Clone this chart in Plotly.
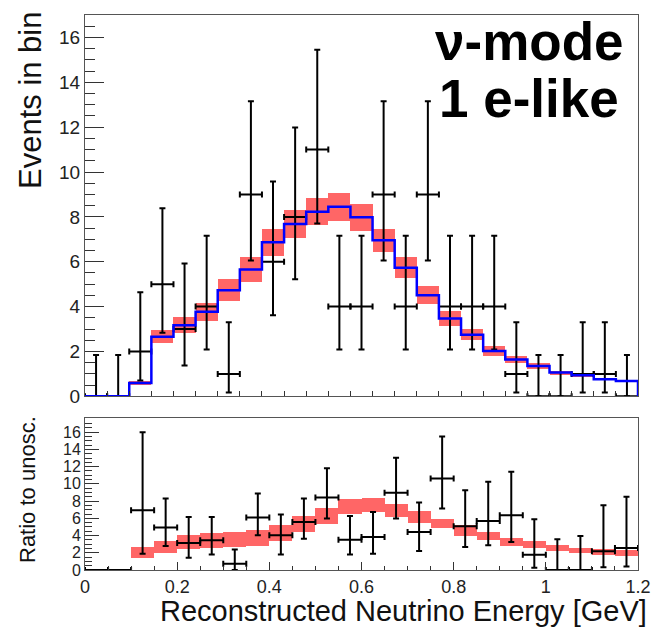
import plotly.graph_objects as go

# ---------------- data ----------------
# Top panel: 25 bins of reconstructed energy (GeV)
top_centers = [0.025, 0.075, 0.125, 0.175, 0.225, 0.275, 0.325, 0.375, 0.425, 0.475,
               0.525, 0.575, 0.625, 0.675, 0.725, 0.775, 0.825, 0.875, 0.925, 0.975,
               1.025, 1.075, 1.125, 1.175, 1.225]
top_edges = [0.0, 0.05, 0.1, 0.15, 0.2, 0.25, 0.3, 0.35, 0.4, 0.45, 0.5, 0.55, 0.6,
             0.65, 0.7, 0.75, 0.8, 0.85, 0.9, 0.95, 1.0, 1.05, 1.1, 1.15, 1.2, 1.25]
top_data = [0, 0, 2, 5, 3, 4, 1, 9, 6, 8, 11, 4, 4, 9, 4, 9, 4, 4, 4, 1, 0, 0, 1, 1, 0]
top_data_lo = [0, 0, 0.71, 2.84, 1.37, 2.09, 0.17, 6.06, 3.62, 5.22, 7.7, 2.09, 2.09,
               6.06, 2.09, 6.06, 2.09, 2.09, 2.09, 0.17, 0, 0, 0.17, 0.17, 0]
top_data_hi = [1.84, 1.84, 4.64, 8.38, 5.92, 7.16, 3.30, 13.15, 9.58, 11.98, 15.45, 7.16,
               7.16, 13.15, 7.16, 13.15, 7.16, 7.16, 7.16, 3.30, 1.84, 1.84, 3.30, 3.30, 1.84]
top_mc = [0, 0, 0.6, 2.66, 3.17, 3.77, 4.73, 5.65, 6.87, 7.68, 8.23, 8.45, 7.98, 6.96,
          5.73, 4.51, 3.47, 2.75, 2.02, 1.64, 1.35, 1.06, 0.94, 0.76, 0.68]
top_mc_err = [0, 0, 0.1, 0.3, 0.35, 0.4, 0.5, 0.55, 0.6, 0.63, 0.6, 0.63, 0.6, 0.52,
              0.46, 0.39, 0.33, 0.26, 0.21, 0.17, 0.13, 0.09, 0.07, 0.05, 0.03]

# Bottom panel: 24 bins, ratio to unoscillated
bot_centers = [0.025, 0.075, 0.125, 0.175, 0.225, 0.275, 0.325, 0.375, 0.425, 0.475,
               0.525, 0.575, 0.625, 0.675, 0.725, 0.775, 0.825, 0.875, 0.925, 0.975,
               1.025, 1.075, 1.125, 1.175]
bot_data = [0, 0, 6.94, 4.92, 3.13, 3.44, 0.72, 6.08, 4.02, 5.58, 8.42, 3.52, 3.83,
            8.96, 4.41, 10.63, 5.07, 5.69, 6.36, 1.77, 0, 0, 2.19, 2.54]
bot_data_lo = [0, 0, 1.9, 2.78, 1.42, 1.8, 0, 4.02, 1.8, 3.63, 5.97, 1.8, 1.89,
               5.97, 2.2, 7.14, 2.66, 2.86, 3.24, 0.25, 0, 0, 0.33, 0.41]
bot_data_hi = [0, 0, 16.0, 8.3, 6.16, 6.16, 2.39, 8.88, 6.43, 8.3, 11.8, 6.28, 6.74,
               13.04, 7.83, 15.5, 9.27, 10.24, 11.4, 5.89, 3.56, 3.94, 7.52, 8.49]
bot_mc = [0, 0, 1.98, 2.6, 3.19, 3.36, 3.48, 3.67, 4.22, 5.3, 6.25, 7.33, 7.52, 6.82,
          6.08, 5.34, 4.56, 3.9, 3.2, 2.9, 2.55, 2.23, 2.08, 1.96]
bot_mc_err = [0, 0, 0.68, 0.72, 0.84, 0.9, 0.9, 0.9, 0.95, 0.95, 0.95, 0.85, 0.8, 0.75,
              0.68, 0.55, 0.6, 0.45, 0.45, 0.4, 0.33, 0.33, 0.33, 0.33]

x_tick_vals = [0, 0.2, 0.4, 0.6, 0.8, 1.0, 1.2]
x_tick_text = ["0", "0.2", "0.4", "0.6", "0.8", "1", "1.2"]
y_top_ticks = [0, 2, 4, 6, 8, 10, 12, 14, 16]
y_bot_ticks = [0, 2, 4, 6, 8, 10, 12, 14, 16]

# ---------------- styling ----------------
RED = "rgba(255,0,0,0.6)"
BLUE = "#0000ff"
FRAME = "#555555"
FONT = "Liberation Sans, Arial, sans-serif"
HALF_BIN = 0.025

fig = go.Figure()

# ---- top panel ----
fig.add_trace(go.Scatter(
    x=top_centers, y=top_data, mode="markers",
    marker=dict(color="black", size=2),
    error_x=dict(type="constant", value=HALF_BIN, color="black", thickness=2, width=3),
    error_y=dict(type="data", symmetric=False,
                 array=[h - v for h, v in zip(top_data_hi, top_data)],
                 arrayminus=[v - l for v, l in zip(top_data, top_data_lo)],
                 color="black", thickness=2, width=3),
    xaxis="x", yaxis="y", showlegend=False, hoverinfo="skip"))

fig.add_trace(go.Bar(
    x=top_centers, y=[2 * e for e in top_mc_err],
    base=[m - e for m, e in zip(top_mc, top_mc_err)],
    width=0.05, marker=dict(color=RED, line=dict(width=0)),
    xaxis="x", yaxis="y", showlegend=False, hoverinfo="skip"))

fig.add_trace(go.Scatter(
    x=top_edges + [top_edges[-1]], y=top_mc + [top_mc[-1], 0],
    mode="lines", line=dict(color=BLUE, width=2.5, shape="hv"),
    xaxis="x", yaxis="y", showlegend=False, hoverinfo="skip"))

# ---- bottom panel ----
fig.add_trace(go.Scatter(
    x=bot_centers, y=bot_data, mode="markers",
    marker=dict(color="black", size=2),
    error_x=dict(type="constant", value=HALF_BIN, color="black", thickness=2, width=3),
    error_y=dict(type="data", symmetric=False,
                 array=[h - v if h > 0 else 0 for h, v in zip(bot_data_hi, bot_data)],
                 arrayminus=[v - l for v, l in zip(bot_data, bot_data_lo)],
                 color="black", thickness=2, width=3),
    xaxis="x2", yaxis="y2", showlegend=False, hoverinfo="skip"))

fig.add_trace(go.Bar(
    x=bot_centers, y=[2 * e for e in bot_mc_err],
    base=[m - e for m, e in zip(bot_mc, bot_mc_err)],
    width=0.05, marker=dict(color=RED, line=dict(width=0)),
    xaxis="x2", yaxis="y2", showlegend=False, hoverinfo="skip"))

axis_common = dict(showgrid=False, zeroline=False, showline=True, linecolor=FRAME,
                   linewidth=1, mirror=True, ticks="inside", tickcolor="#333333",
                   automargin=False,
                   tickfont=dict(family=FONT, color="#222222"))

fig.update_layout(
    template="none",
    width=651, height=630,
    margin=dict(l=85, r=13, t=15, b=60, autoexpand=False),
    paper_bgcolor="white", plot_bgcolor="white",
    barmode="overlay", bargap=0,
    font=dict(family=FONT, color="black"),
    xaxis=dict(axis_common, range=[0, 1.25], domain=[0, 1], anchor="y",
               tickmode="array", tickvals=top_edges, showticklabels=False,
               ticklen=5, tickwidth=1),
    yaxis=dict(axis_common, range=[0, 17], domain=[0.3129, 1], anchor="x",
               tickmode="array", tickvals=y_top_ticks, ticklen=19, tickwidth=1,
               tickfont=dict(family=FONT, size=19, color="#222222"),
               minor=dict(dtick=0.5, tick0=0, ticklen=10, ticks="inside",
                          tickcolor="#333333", showgrid=False)),
    xaxis2=dict(axis_common, range=[0, 1.2], domain=[0, 1], anchor="y2",
                tickmode="array", tickvals=x_tick_vals, ticktext=x_tick_text,
                ticklen=8, tickwidth=1,
                tickfont=dict(family=FONT, size=18, color="#222222"),
                minor=dict(dtick=0.05, tick0=0, ticklen=4, ticks="inside",
                           tickcolor="#333333", showgrid=False)),
    yaxis2=dict(axis_common, range=[0, 17.6], domain=[0, 0.2732], anchor="x2",
                tickmode="array", tickvals=y_bot_ticks, ticklen=14, tickwidth=1,
                tickfont=dict(family=FONT, size=16, color="#222222"),
                minor=dict(dtick=0.5, tick0=0, ticklen=7, ticks="inside",
                           tickcolor="#333333", showgrid=False)),
)

annotations = [
    dict(text="Events in bin", x=30, y=100, textangle=-90,
         showarrow=False, font=dict(family=FONT, size=31, color="#111111")),
    dict(text="Ratio to unosc.", x=27, y=490, textangle=-90,
         showarrow=False, font=dict(family=FONT, size=22, color="#111111")),
    dict(text="Reconstructed Neutrino Energy [GeV]", x=649, y=611,
         xanchor="right", showarrow=False, font=dict(family=FONT, size=29, color="#111111")),
    dict(text="<b>ν-mode</b>", x=529, y=42, showarrow=False,
         font=dict(family=FONT, size=53, color="black")),
    dict(text="<b>1 e-like</b>", x=529, y=98, showarrow=False,
         font=dict(family=FONT, size=53, color="black")),
]
# convert pixel positions to paper coordinates
plot_w = 651 - 85 - 13
plot_h = 630 - 15 - 60
anns = []
for a in annotations:
    px, py = a["x"], a["y"]
    a = dict(a)
    a["xref"] = "paper"
    a["yref"] = "paper"
    a["x"] = (px - 85) / plot_w
    a["y"] = (630 - 60 - py) / plot_h
    a.setdefault("xanchor", "center")
    a["yanchor"] = "middle"
    anns.append(a)
fig.update_layout(annotations=anns)

fig.write_html("out.html",
               config={"displayModeBar": False},
               post_script="document.body.style.margin='0';"
                           "document.body.style.overflow='hidden';")
